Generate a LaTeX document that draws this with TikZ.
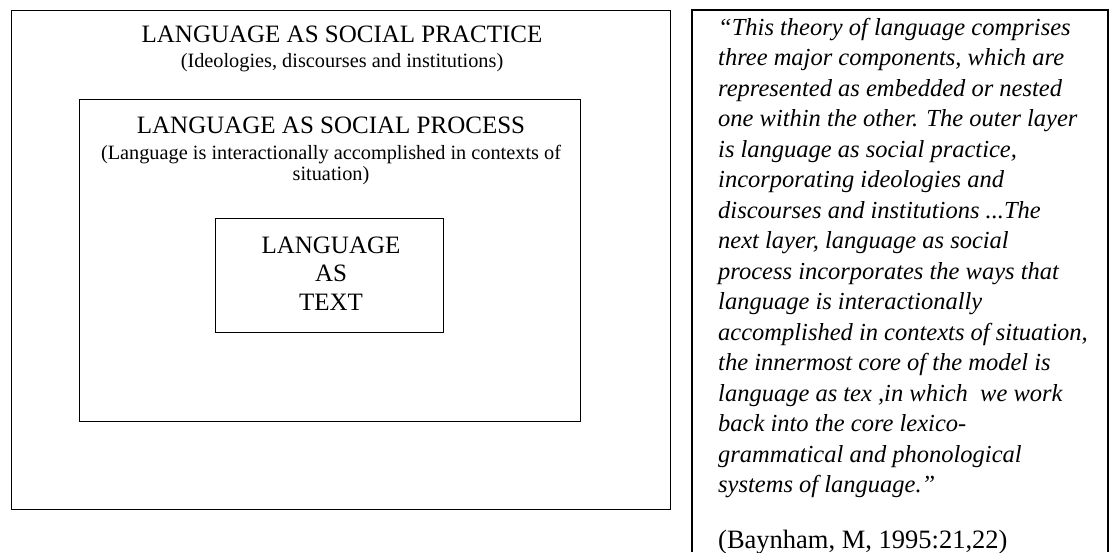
\documentclass[tikz,border=0pt]{standalone}
\usepackage{fontspec}
\setmainfont{Liberation Serif}
\newcommand\qdots{...}
\begin{document}
\begin{tikzpicture}[x=1pt,y=-1pt,
  box/.style={draw=black,line width=1.3pt,rectangle,inner sep=0pt,anchor=north west},
  ttl/.style={font=\fontsize{25}{28}\selectfont,anchor=base,inner sep=0pt},
  sbt/.style={font=\fontsize{20.3}{24}\selectfont,anchor=base,inner sep=0pt},
  qline/.style={font=\fontsize{24.5}{30}\selectfont\itshape,anchor=base west,inner sep=0pt},
  cite/.style={font=\fontsize{26.5}{30}\selectfont,anchor=base west,inner sep=0pt}]
\useasboundingbox (0,0) rectangle (1110,552);
% nested boxes
\node[box,minimum width=659pt,minimum height=499pt] (outer) at (11,10) {};
\node[box,minimum width=501pt,minimum height=322pt] (middle) at (79,99) {};
\node[box,minimum width=228pt,minimum height=114pt] (inner) at (215,218) {};
% outer texts
\node[ttl] (t1) at (342,42) {LANGUAGE AS SOCIAL PRACTICE};
\node[sbt] (s1) at (342,67) {(Ideologies, discourses and institutions)};
% middle texts
\node[ttl] (t2) at (331,133) {LANGUAGE AS SOCIAL PROCESS};
\node[sbt] (s2) at (331,159) {(Language is interactionally accomplished in contexts of};
\node[sbt] (s3) at (331,180) {situation)};
% inner texts
\node[ttl] (i1) at (331,253) {LANGUAGE};
\node[ttl] (i2) at (331,281.5) {AS};
\node[ttl] (i3) at (331,310) {TEXT};
% quote box (open at the bottom)
\coordinate (qbl) at (692,552);
\coordinate (qtl) at (692,10);
\coordinate (qtr) at (1108,10);
\coordinate (qbr) at (1108,552);
\draw[line width=1.3pt] (qbl) -- (qtl) -- (qtr) -- (qbr);
\foreach \l [count=\i] in {
  {“This theory of language comprises},
  {three major components, which are},
  {represented as embedded or nested},
  {one within the other. The outer layer},
  {is language as social practice,},
  {incorporating ideologies and},
  {discourses and institutions \qdots The},
  {next layer, language as social},
  {process incorporates the ways that},
  {language is interactionally},
  {accomplished in contexts of situation,},
  {the innermost core of the model is},
  {language as tex ,in which\ \ we work},
  {back into the core lexico-},
  {grammatical and phonological},
  {systems of language.”}}
  \node[qline] (q\i) at (718,{35+30.5*(\i-1)}) {\l};
\node[cite] (cite) at (718,548) {(Baynham, M, 1995:21,22)};
\end{tikzpicture}
\end{document}
